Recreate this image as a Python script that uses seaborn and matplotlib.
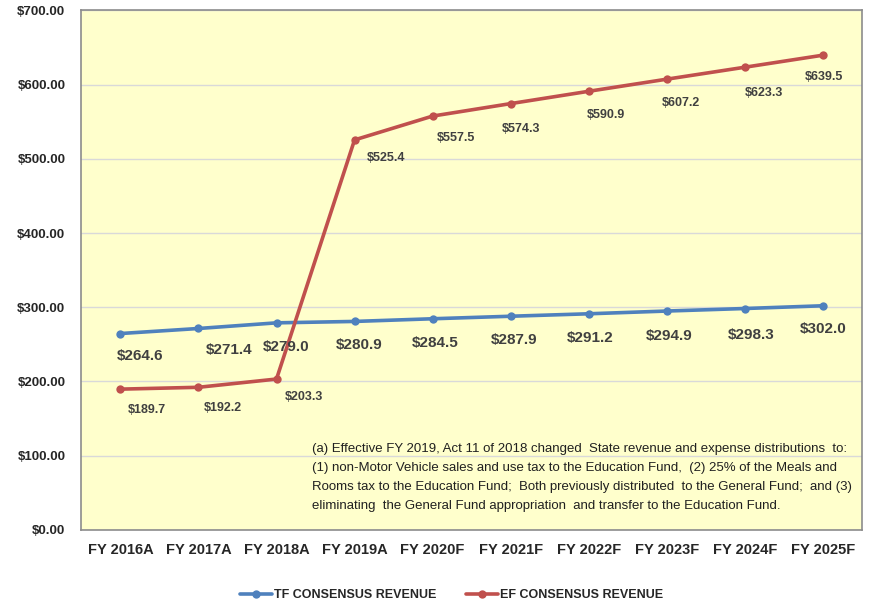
import pandas as pd
import matplotlib.pyplot as plt
import seaborn as sns

# data (millions of $)
years = ['FY 2016A', 'FY 2017A', 'FY 2018A', 'FY 2019A', 'FY 2020F',
         'FY 2021F', 'FY 2022F', 'FY 2023F', 'FY 2024F', 'FY 2025F']
tf_revenue = [264.6, 271.4, 279.0, 280.9, 284.5, 287.9, 291.2, 294.9, 298.3, 302.0]
ef_revenue = [189.7, 192.2, 203.3, 525.4, 557.5, 574.3, 590.9, 607.2, 623.3, 639.5]
series_names = ['TF CONSENSUS REVENUE', 'EF CONSENSUS REVENUE']
y_ticks = [0, 100, 200, 300, 400, 500, 600, 700]

note = ("(a) Effective FY 2019, Act 11 of 2018 changed  State revenue and expense distributions  to:\n"
        "(1) non-Motor Vehicle sales and use tax to the Education Fund,  (2) 25% of the Meals and\n"
        "Rooms tax to the Education Fund;  Both previously distributed  to the General Fund;  and (3)\n"
        "eliminating  the General Fund appropriation  and transfer to the Education Fund.")

# label offsets (pixels) as placed in the original chart
tf_dx = [20, 31, 10, 5, 3, 3, 2, 2, 6, 0]
tf_dy = [-22, -22, -24, -24, -24, -24, -24, -25, -26, -23]
ef_dx = [26, 24, 27, 31, 23, 10, 17, 14, 19, 1]
ef_dy = [-21, -21, -18, -18, -22, -25, -24, -24, -26, -22]

df = pd.DataFrame({
    'year': years * 2,
    'value': tf_revenue + ef_revenue,
    'series': [series_names[0]] * len(years) + [series_names[1]] * len(years),
})

sns.set_style('white')
plt.rcParams['font.family'] = ['Liberation Sans', 'DejaVu Sans']

fig = plt.figure(figsize=(8.75, 6.05), dpi=100)
ax = fig.add_axes([0.093, 0.124, 0.892, 0.859])
ax.set_facecolor('#FFFFCC')

palette = {series_names[0]: '#4F81BD', series_names[1]: '#C0504D'}
sns.lineplot(data=df, x='year', y='value', hue='series', palette=palette,
             marker='o', markersize=6, markeredgewidth=0, linewidth=2.6,
             sort=False, ax=ax)

# data labels
for i, v in enumerate(tf_revenue):
    ax.annotate(f'${v:.1f}', (i, v), xytext=(tf_dx[i], tf_dy[i]), textcoords='offset pixels',
                ha='center', va='center', fontsize=11, fontweight='bold', color='#404040')
for i, v in enumerate(ef_revenue):
    ax.annotate(f'${v:.1f}', (i, v), xytext=(ef_dx[i], ef_dy[i]), textcoords='offset pixels',
                ha='center', va='center', fontsize=9, fontweight='bold', color='#404040')

ax.text(0.296, 0.167, note, transform=ax.transAxes, ha='left', va='top',
        fontsize=9.5, color='#202020', linespacing=1.78)

ax.set_ylim(0, 700)
ax.set_xlim(-0.5, len(years) - 0.5)
ax.set_yticks(y_ticks)
ax.set_yticklabels([f'${t:.2f}' for t in y_ticks], fontsize=9.5, fontweight='bold')
ax.tick_params(axis='x', labelsize=10.5, pad=6)
for lab in ax.get_xticklabels():
    lab.set_fontweight('bold')
ax.tick_params(axis='y', pad=8)
ax.grid(axis='y', color='#D9D9D9', linewidth=1)
ax.set_axisbelow(True)
for s in ax.spines.values():
    s.set_color('#8C8C8C')
    s.set_linewidth(1.2)
ax.set_xlabel('')
ax.set_ylabel('')

ax.legend(loc='center', bbox_to_anchor=(0.474, -0.125), ncol=2, frameon=False,
          prop={'weight': 'bold', 'size': 9}, handlelength=2.6, columnspacing=2.4,
          handletextpad=0.1)

plt.savefig('out.png', dpi=100)
